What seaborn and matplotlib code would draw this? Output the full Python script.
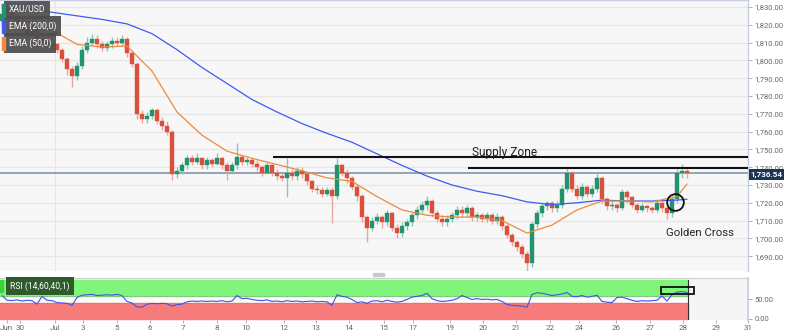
import numpy as np
import pandas as pd
import matplotlib
matplotlib.use("Agg")
import matplotlib.pyplot as plt
import matplotlib.transforms as mtransforms
from matplotlib.patches import Rectangle
import seaborn as sns

# ---------------- data ----------------
closes = [1826, 1829, 1824, 1821, 1817, 1814, 1818, 1812, 1810, 1808,
          1809, 1806, 1801, 1795, 1791, 1797, 1806, 1810, 1812, 1809,
          1807, 1809, 1811, 1810, 1812, 1804, 1798, 1770, 1767, 1769,
          1772, 1766, 1763, 1760, 1736, 1738, 1741, 1745, 1743, 1745,
          1741, 1744, 1742, 1745, 1741, 1738, 1741, 1746, 1743, 1744,
          1742, 1740, 1737, 1741, 1737, 1735, 1734, 1737, 1735, 1738,
          1736, 1732, 1728, 1727, 1725, 1727, 1724, 1741, 1737, 1734,
          1729, 1724, 1712, 1706, 1710, 1712, 1709, 1714, 1706, 1703,
          1707, 1709, 1713, 1716, 1719, 1721, 1714, 1711, 1709, 1711,
          1713, 1716, 1714, 1717, 1712, 1713, 1711, 1713, 1710, 1712,
          1707, 1702, 1698, 1695, 1691, 1686, 1708, 1714, 1718, 1720,
          1717, 1719, 1728, 1737, 1728, 1724, 1729, 1725, 1728, 1734,
          1722, 1718, 1719, 1717, 1726, 1723, 1719, 1716, 1718, 1717,
          1716, 1720, 1717, 1714, 1722, 1737, 1738, 1736.54]
highs = [1832, 1833, 1830, 1826, 1823, 1819, 1820, 1820, 1814, 1812,
         1811, 1810, 1807, 1802, 1797, 1799, 1808, 1813, 1815, 1814,
         1811, 1811, 1813, 1813, 1814, 1813, 1806, 1799, 1772, 1771,
         1773, 1773, 1768, 1766, 1761, 1740, 1743, 1747, 1747, 1748,
         1746, 1746, 1745, 1748, 1746, 1743, 1743, 1753.6, 1747, 1746,
         1745, 1744, 1741, 1743, 1742, 1739, 1737, 1745, 1739, 1740,
         1740, 1737, 1733, 1730, 1729, 1729, 1729, 1745, 1742, 1739,
         1735, 1730, 1725, 1713, 1712, 1714, 1713, 1716, 1715, 1708,
         1709, 1711, 1715, 1718, 1721, 1724, 1722, 1716, 1713, 1713,
         1715, 1718, 1718, 1719, 1718, 1715, 1714, 1715, 1714, 1714,
         1713, 1708, 1703, 1699, 1697, 1693, 1710, 1716, 1720, 1721,
         1721, 1721, 1730, 1740, 1738, 1730, 1731, 1730, 1730, 1737,
         1735, 1723, 1721, 1720, 1728, 1727, 1724, 1720, 1720, 1719,
         1718, 1722, 1721, 1718, 1724, 1739, 1742, 1740]
lows = [1820, 1824, 1822, 1819, 1815, 1812, 1812, 1806, 1808, 1806,
        1806, 1804, 1799, 1792, 1785, 1789, 1795, 1804, 1808, 1807,
        1805, 1805, 1807, 1808, 1808, 1802, 1796, 1767, 1765, 1765,
        1767, 1764, 1761, 1758, 1733, 1734, 1736, 1739, 1741, 1742,
        1739, 1739, 1740, 1741, 1739, 1733, 1736, 1739, 1741, 1741,
        1740, 1738, 1735, 1736, 1735, 1733, 1732, 1723, 1733, 1733,
        1734, 1730, 1726, 1725, 1723, 1724, 1708.7, 1722, 1735, 1731,
        1727, 1721, 1709, 1698, 1704, 1708, 1706, 1707, 1704, 1700,
        1701, 1705, 1707, 1711, 1714, 1716, 1712, 1709, 1707, 1707,
        1709, 1711, 1712, 1712, 1710, 1710, 1709, 1709, 1708, 1708,
        1705, 1700, 1696, 1693, 1689, 1681, 1684, 1706, 1712, 1716,
        1715, 1715, 1717, 1726, 1726, 1722, 1722, 1723, 1723, 1726,
        1720, 1716, 1716, 1715, 1716, 1720, 1717, 1714, 1715, 1715,
        1714, 1715, 1715, 1711, 1712, 1720, 1734, 1734]
first_open = 1822

# EMA values sampled every 5 candles (plus the last candle)
ema_idx = [0, 5, 10, 15, 20, 25, 30, 35, 40, 45, 50, 55, 60, 65, 70, 75,
           80, 85, 90, 95, 100, 105, 110, 115, 120, 125, 130, 135, 137]
ema200 = [1831, 1829, 1827, 1825, 1823, 1820.5, 1815, 1806, 1796, 1787,
          1778, 1771, 1764.5, 1759, 1754, 1747.5, 1741, 1735, 1730, 1726.5,
          1724, 1720.5, 1719, 1720, 1721.5, 1721, 1721, 1721.5, 1722]
ema50 = [1826, 1822, 1817, 1809, 1807.5, 1808, 1794, 1771, 1758, 1749,
         1745, 1741.5, 1738, 1734, 1732, 1723.5, 1716, 1713, 1712, 1712,
         1710, 1703, 1707.5, 1716, 1721, 1721, 1720.5, 1723.5, 1730.6]

rsi = [60, 48, 47, 49, 46, 48, 47, 38, 58, 48,
       47, 42, 41, 40, 35, 55, 61, 62, 63, 60,
       61, 62, 61, 63, 60, 45, 41, 31, 30, 38,
       40, 39, 40, 39, 33, 37, 38, 44, 46, 45,
       46, 45, 46, 45, 47, 44, 46, 60, 52, 53,
       50, 48, 47, 49, 45, 46, 44, 47, 45, 46,
       44, 45, 46, 44, 45, 44, 35, 62, 58, 56,
       50, 42, 44, 40, 46, 47, 44, 48, 45, 43,
       45, 50, 56, 58, 60, 66, 52, 47, 45, 46,
       48, 52, 60, 55, 50, 52, 50, 51, 49, 50,
       45, 37, 35, 34, 33, 30, 63, 67, 66, 63,
       60, 62, 64, 68, 58, 57, 60, 56, 58, 61,
       45, 43, 42, 55, 56, 52, 48, 45, 47, 46,
       47, 48, 59, 46, 62, 69, 70, 68]

date_labels = ["Jun", "30", "Jul", "3", "5", "6", "7", "8", "10", "12", "13",
               "14", "15", "17", "19", "20", "21", "22", "24", "26", "27",
               "28", "29", "31"]
date_pos = [0.9, 3.6, 10.6, 16.2, 23.0, 29.6, 36.2, 43.0, 48.8, 56.4, 62.8,
            69.4, 76.4, 82.2, 89.6, 96.2, 102.8, 109.6, 115.4, 122.8, 129.6,
            136.2, 142.8, 149.2]
price_ticks = [1690, 1700, 1710, 1720, 1730, 1740, 1750, 1760, 1770, 1780,
               1790, 1800, 1810, 1820, 1830]
last_price = 1736.54
supply_top = 1745.7
supply_bottom = 1739.6

# ---------------- frames ----------------
n = len(closes)
idx = np.arange(n)
opens = [first_open] + closes[:-1]
df = pd.DataFrame({"i": idx, "open": opens, "high": highs,
                   "low": lows, "close": closes})
df["up"] = df["close"] >= df["open"]
ema_df = pd.DataFrame({"i": ema_idx, "ema200": ema200, "ema50": ema50})
rsi_df = pd.DataFrame({"i": idx, "rsi": rsi})

sns.set_theme(style="white")
plt.rcParams["font.family"] = ["Roboto", "DejaVu Sans"]

fig = plt.figure(figsize=(8, 3.35), dpi=100)
fig.patch.set_facecolor("white")
W = 748 / 800
ax = fig.add_axes([0, 1 - 271 / 335, W, 271 / 335])
rax = fig.add_axes([0, 1 - 320 / 335, W, 42 / 335])

XMIN, XMAX = -0.4, 149.2

# ---------------- main price panel ----------------
ax.set_facecolor("#f7f7f7")
ax.set_xlim(XMIN, XMAX)
ax.set_ylim(1681.7, 1833.9)
for p in price_ticks:
    ax.axhline(p, color="#e6e6e6", lw=0.9, zorder=0)
ax.axvline(10.6, color="#e6e6e6", lw=0.9, zorder=0)

up_col, dn_col = "#23936f", "#d9503c"
wick_up, wick_dn = "#8cc7b2", "#eba69b"
colors = np.where(df["up"], up_col, dn_col)
wcolors = np.where(df["up"], wick_up, wick_dn)
ax.vlines(df["i"], df["low"], df["high"], colors=wcolors, lw=1.0, zorder=2)
body = (df["close"] - df["open"]).to_numpy()
body = np.where(np.abs(body) < 0.6, 0.6, body)
ax.bar(df["i"], body, bottom=df["open"], width=0.62, color=colors,
       edgecolor=colors, linewidth=0.3, zorder=3)

sns.lineplot(data=ema_df, x="i", y="ema200", ax=ax, color="#3d5bf0",
             lw=0.9, zorder=4)
sns.lineplot(data=ema_df, x="i", y="ema50", ax=ax, color="#f08a3c",
             lw=0.9, zorder=4)

# current price line
ax.axhline(last_price, color="#7b8aa3", lw=1.1, zorder=1)
# supply zone lines
ax.hlines(supply_top, 54.2, XMAX, color="#111111", lw=1.5, zorder=5)
ax.hlines(supply_bottom, 93.2, XMAX, color="#111111", lw=1.5, zorder=5)
ax.text(94.0, 1748.0, "Supply Zone", fontsize=8.6, color="#222222",
        ha="left", va="center", zorder=6)
ax.text(132.8, 1703.0, "Golden Cross", fontsize=8.2, color="#222222",
        ha="left", va="center", zorder=6)
ax.plot([134.6], [1720.4], marker="o", ms=12, mfc="none", mec="#111111",
        mew=1.3, zorder=6)

ax.set_xlabel("")
ax.set_ylabel("")
ax.set_xticks([])
ax.yaxis.tick_right()
ax.set_yticks(price_ticks)
ax.set_yticklabels([f"{p:,.2f}" for p in price_ticks])
ax.tick_params(axis="y", right=True, length=3, width=0.6, color="#9aa3b5",
               labelsize=5.5, labelcolor="#666666", pad=1.5)
for s in ["left", "bottom"]:
    ax.spines[s].set_visible(False)
ax.spines["right"].set_color("#c7cede")
ax.spines["right"].set_linewidth(1.0)
ax.spines["top"].set_color("#c7cede")
ax.spines["top"].set_linewidth(1.0)

# price label on the right axis
trans = mtransforms.blended_transform_factory(ax.transAxes, ax.transData)
ax.text(1.003, last_price - 0.6, "1,736.54", transform=trans, fontsize=5.8,
        color="white", fontweight="bold", ha="left", va="center",
        bbox=dict(boxstyle="square,pad=0.2", fc="#1d3557", ec="none"),
        zorder=10, clip_on=False)

# legend boxes (top-left)
def label_box(y, text, stripe):
    fig.text(9 / 800, 1 - y / 335, text, fontsize=6.2, color="white",
             ha="left", va="center",
             bbox=dict(boxstyle="square,pad=0.55", fc="#4d4d4d",
                       ec="none", alpha=0.92))
    fig.patches.append(Rectangle((2 / 800, 1 - (y + 6.5) / 335), 2.5 / 800,
                                 13 / 335, transform=fig.transFigure,
                                 color=stripe, zorder=20))

label_box(10, "XAU/USD", up_col)
label_box(26, "EMA (200,0)", "#3d5bf0")
label_box(43, "EMA (50,0)", "#f08a3c")

# splitter handle
fig.patches.append(Rectangle((373 / 800, 1 - 276 / 335), 11 / 800, 3 / 335,
                             transform=fig.transFigure, color="#c8c8c8"))

# ---------------- RSI panel ----------------
rax.set_facecolor("#f5f5f5")
rax.set_xlim(XMIN, XMAX)
rax.set_ylim(-2.6, 105)
last_x = idx[-1] + 0.2
rax.fill_between([XMIN, last_x], 40, 60, color="#fbfbfb", zorder=0)
rax.fill_between([XMIN, last_x], 60, 100, color="#7ff57c", zorder=1)
rax.fill_between([XMIN, last_x], 0, 40, color="#f77b7b", zorder=1)
rax.axvline(last_x, ymin=0.02, ymax=0.95, color="#333333", lw=0.8, zorder=2)
rax.axhline(60, xmax=(last_x - XMIN) / (XMAX - XMIN), color="#8a8a8a",
            lw=0.6, ls=(0, (1, 1)), zorder=2)
rax.axhline(40, xmax=(last_x - XMIN) / (XMAX - XMIN), color="#8a8a8a",
            lw=0.6, ls=(0, (1, 1)), zorder=2)
sns.lineplot(data=rsi_df, x="i", y="rsi", ax=rax, color="#3b55e6",
             lw=0.8, zorder=3)
rax.add_patch(Rectangle((131.8, 63), 6.6, 18, fill=False, ec="#111111",
                        lw=1.3, zorder=5))
rax.text(1.6, 84, "RSI (14,60,40,1)", fontsize=6.2, color="white",
         ha="left", va="center", zorder=6,
         bbox=dict(boxstyle="square,pad=0.5", fc="#2f5a2b", ec="none"))
rax.add_patch(Rectangle((XMIN, 68), 0.6, 32, color="#3fd13a", zorder=7))

rax.set_xlabel("")
rax.set_ylabel("")
rax.yaxis.tick_right()
rax.set_yticks([0, 50])
rax.set_yticklabels(["0.00", "50.00"])
rax.tick_params(axis="y", right=True, length=3, width=0.6, color="#9aa3b5",
                labelsize=5.5, labelcolor="#666666", pad=1.5)
rax.set_xticks(date_pos)
rax.set_xticklabels(date_labels)
rax.tick_params(axis="x", bottom=True, length=2.5, width=0.6,
                color="#9aa3b5", labelsize=5.8, labelcolor="#666666", pad=1)
for s in ["left", "bottom"]:
    rax.spines[s].set_visible(False)
rax.spines["right"].set_color("#c7cede")
rax.spines["top"].set_color("#d0d0d0")
rax.spines["top"].set_linewidth(0.8)

fig.savefig("out.png", dpi=100)
